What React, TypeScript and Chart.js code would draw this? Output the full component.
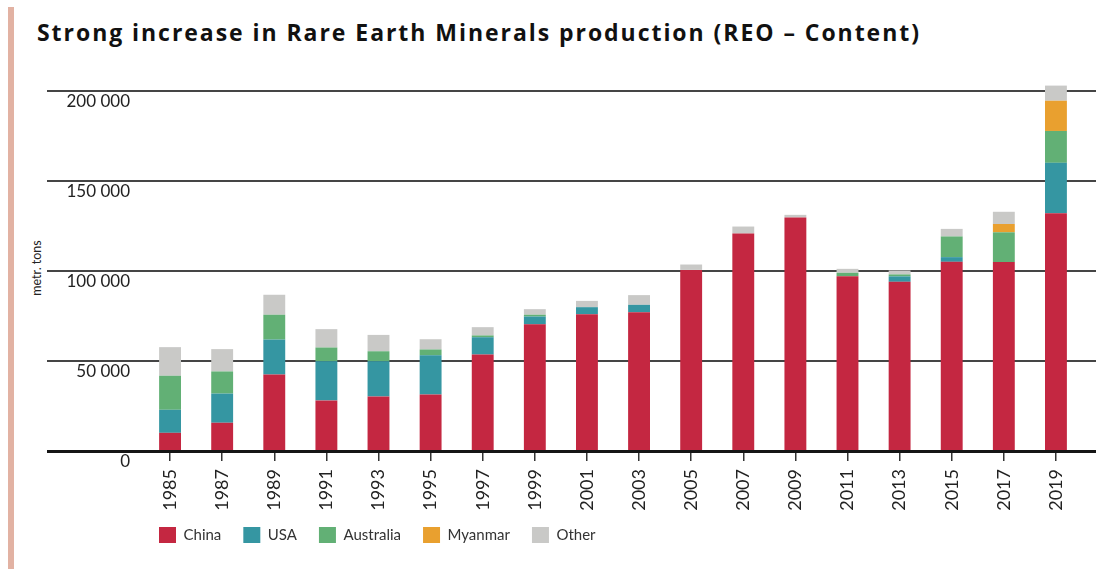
import React, { useEffect, useRef } from 'react';
import { Chart, registerables } from 'chart.js';

Chart.register(...registerables);

const years = ['1985', '1987', '1989', '1991', '1993', '1995', '1997', '1999', '2001', '2003', '2005', '2007', '2009', '2011', '2013', '2015', '2017', '2019'];
const china = [10100, 15700, 42500, 28100, 30300, 31400, 53600, 70400, 76000, 77100, 100600, 120800, 129700, 97100, 94000, 105100, 105000, 132100];
const usa = [12800, 16200, 19400, 21800, 19600, 21800, 9600, 4300, 3900, 4100, 0, 0, 0, 0, 3000, 2600, 0, 28000];
const australia = [18900, 12300, 13800, 7600, 5500, 3200, 1000, 1000, 0, 0, 0, 0, 0, 1900, 1100, 11500, 16500, 17700];
const myanmar = [0, 0, 0, 0, 0, 0, 0, 0, 0, 0, 0, 0, 0, 0, 0, 0, 4600, 16800];
const other = [15900, 12400, 11100, 10200, 9100, 5700, 4600, 3100, 3500, 5400, 3000, 3900, 1500, 2200, 2200, 4200, 6800, 8400];
const yMax = 200000;
const yStep = 50000;

const FONT = 'Lato, "Open Sans", sans-serif';

const fmt = (v: number) => String(v).replace(/\B(?=(\d{3})+(?!\d))/g, ' ');

const hLines = {
  id: 'hLines',
  afterLayout(chart: any) {
    const lg = chart.legend;
    if (lg) {
      lg.left += 90;
      lg.right += 90;
      lg.top -= 16;
      lg.bottom -= 16;
    }
  },
  beforeDatasetsDraw(chart: any) {
    const y = chart.scales.y;
    const ctx = chart.ctx;
    ctx.save();
    ctx.strokeStyle = '#454545';
    ctx.lineWidth = 2;
    y.ticks.forEach((t: any) => {
      if (t.value === 0) return;
      const py = Math.round(y.getPixelForValue(t.value));
      ctx.beginPath();
      ctx.moveTo(47, py);
      ctx.lineTo(chart.width, py);
      ctx.stroke();
    });
    ctx.restore();
  },
  afterDatasetsDraw(chart: any) {
    const y = chart.scales.y;
    const ctx = chart.ctx;
    ctx.save();
    ctx.strokeStyle = '#151515';
    ctx.lineWidth = 3;
    const py = Math.round(y.getPixelForValue(0)) + 0.5;
    ctx.beginPath();
    ctx.moveTo(47, py);
    ctx.lineTo(chart.width, py);
    ctx.stroke();
    ctx.restore();
  },
};

export default function App() {
  const ref = useRef<HTMLCanvasElement | null>(null);

  useEffect(() => {
    if (!ref.current) return;
    const mk = (label: string, data: number[], color: string) => ({
      label,
      data,
      backgroundColor: color,
      borderWidth: 0,
      clip: false as any,
    });
    const chart = new Chart(ref.current, {
      type: 'bar',
      data: {
        labels: years,
        datasets: [
          mk('China', china, '#c42741'),
          mk('USA', usa, '#3596a2'),
          mk('Australia', australia, '#62b075'),
          mk('Myanmar', myanmar, '#e9a02f'),
          mk('Other', other, '#c9c9c7'),
        ],
      },
      options: {
        animation: false,
        responsive: true,
        maintainAspectRatio: false,
        datasets: { bar: { categoryPercentage: 1, barPercentage: 0.42 } },
        layout: { padding: { left: 47, right: 14, top: 91, bottom: 0 } },
        plugins: {
          title: { display: false },
          tooltip: { enabled: false },
          legend: {
            display: true,
            position: 'bottom',
            align: 'start',
            labels: {
              boxWidth: 17,
              boxHeight: 16,
              padding: 22,
              color: '#333',
              font: { family: FONT, size: 15 },
            },
          },
        },
        scales: {
          x: {
            stacked: true,
            grid: { display: true, drawOnChartArea: false, drawTicks: true, tickLength: 10, offset: false, color: '#333', lineWidth: 1.5 },
            border: { display: false },
            ticks: { minRotation: 90, maxRotation: 90, autoSkip: false, padding: 8, color: '#222', font: { family: FONT, size: 18 } },
            afterFit: (s: any) => { s.height = 70; },
          },
          y: {
            stacked: true,
            min: 0,
            max: yMax,
            grid: { display: false, drawTicks: false },
            border: { display: false },
            ticks: { stepSize: yStep, padding: 14, labelOffset: 11, color: '#222', font: { family: FONT, size: 17 }, callback: (v: any) => fmt(Number(v)) },
            afterFit: (s: any) => { s.width = 97; },
          },
        },
      },
      plugins: [hLines],
    });
    return () => chart.destroy();
  }, []);

  return (
    <div style={{ position: 'absolute', left: 0, top: 0, width: 1096, height: 569, background: '#fff', overflow: 'hidden' }}>
      <div style={{ position: 'absolute', left: 8, top: 7, width: 6, height: 562, background: '#e2b2a3' }} />
      <div style={{ position: 'absolute', left: 37, top: 21, fontFamily: '"Open Sans", Lato, sans-serif', fontWeight: 700, fontSize: 23, letterSpacing: 1.95, lineHeight: 1, color: '#111', whiteSpace: 'nowrap' }}>
        Strong increase in Rare Earth Minerals production (REO – Content)
      </div>
      <div style={{ position: 'absolute', left: 36, top: 268, transform: 'translate(-50%, -50%) rotate(-90deg)', fontFamily: FONT, fontSize: 12.5, color: '#222', whiteSpace: 'nowrap' }}>
        metr. tons
      </div>
      <div style={{ position: 'absolute', left: 0, top: 0, width: 1096, height: 569 }}>
        <canvas ref={ref} />
      </div>
    </div>
  );
}
